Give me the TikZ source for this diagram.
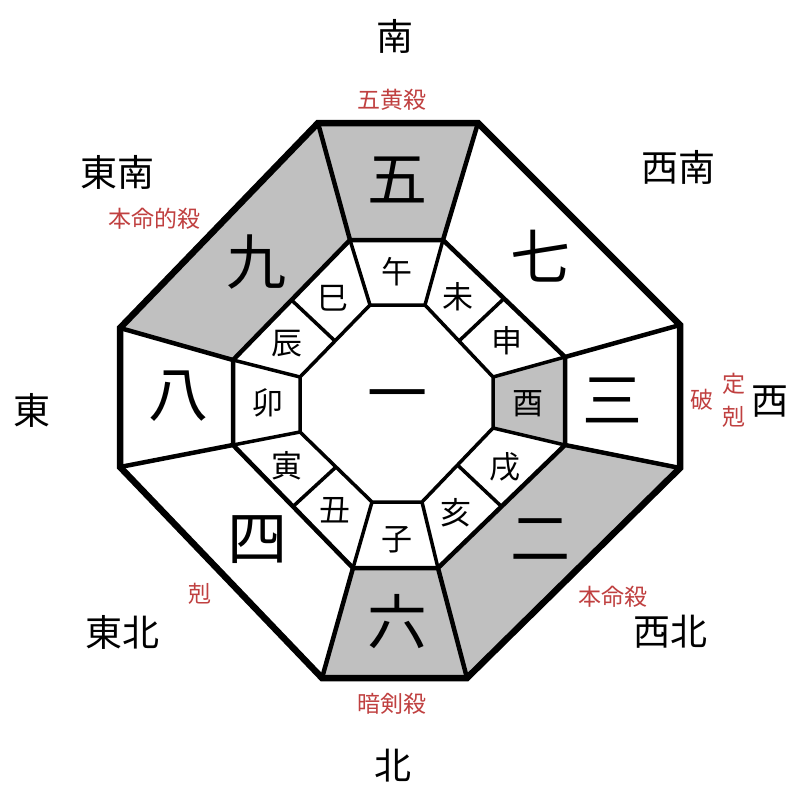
\documentclass[tikz,border=0pt]{standalone}
\usepackage{fontspec}
\usetikzlibrary{calc}
\newfontfamily\cjk{Noto Sans CJK JP}
\definecolor{cellgray}{RGB}{192,192,192}
\definecolor{redlab}{RGB}{192,64,64}
\begin{document}
\begin{tikzpicture}[x=1pt,y=-1pt,
  sector/.style={draw=black,line width=4.5pt,line join=miter},
  thin/.style={draw=black,line width=3.5pt},
  grayfill/.style={fill=cellgray},
  num/.style={inner sep=0pt,font=\cjk\fontsize{60}{60}\selectfont},
  branch/.style={inner sep=0pt,font=\cjk\fontsize{31}{31}\selectfont},
  dir/.style={inner sep=0pt,font=\cjk\fontsize{37}{37}\selectfont},
  redtxt/.style={inner sep=0pt,text=redlab,font=\cjk\fontsize{23}{23}\selectfont}]
\useasboundingbox (0,0) rectangle (800,800);
\fill[white] (0,0) rectangle (800,800);
% outer octagon
\coordinate (O1) at (318,123);
\coordinate (O2) at (478,123);
\coordinate (O3) at (680,325);
\coordinate (O4) at (680,468);
\coordinate (O5) at (467,678);
\coordinate (O6) at (322,678);
\coordinate (O7) at (120,467);
\coordinate (O8) at (120,328);
% middle octagon
\coordinate (M1) at (350,240);
\coordinate (M2) at (443,240);
\coordinate (M3) at (565,357);
\coordinate (M4) at (565,445);
\coordinate (M5) at (438,568);
\coordinate (M6) at (353,568);
\coordinate (M7) at (233,445);
\coordinate (M8) at (233,360);
% inner octagon
\coordinate (I1) at (370,305);
\coordinate (I2) at (425,305);
\coordinate (I3) at (493,377);
\coordinate (I4) at (493,428);
\coordinate (I5) at (422,502);
\coordinate (I6) at (372,502);
\coordinate (I7) at (300,432);
\coordinate (I8) at (300,377);
% gray fills
\path[grayfill] (O1) -- (O2) -- (M2) -- (M1) -- cycle;
\path[grayfill] (O4) -- (O5) -- (M5) -- (M4) -- cycle;
\path[grayfill] (O5) -- (O6) -- (M6) -- (M5) -- cycle;
\path[grayfill] (O8) -- (O1) -- (M1) -- (M8) -- cycle;
\path[grayfill] (M3) -- (M4) -- (I4) -- (I3) -- cycle;
% branch dividers
\draw[thin] ($(M2)!0.5!(M3)$) -- ($(I2)!0.5!(I3)$);
\draw[thin] ($(M4)!0.5!(M5)$) -- ($(I4)!0.5!(I5)$);
\draw[thin] ($(M6)!0.5!(M7)$) -- ($(I6)!0.5!(I7)$);
\draw[thin] ($(M8)!0.5!(M1)$) -- ($(I8)!0.5!(I1)$);
% inner radial lines
\foreach \i in {1,...,8} \draw[thin] (M\i) -- (I\i);
% inner octagon
\draw[thin,line join=miter] (I1) -- (I2) -- (I3) -- (I4) -- (I5) -- (I6) -- (I7) -- (I8) -- cycle;
% outer radial lines
\foreach \i in {1,...,8} \draw[sector] (M\i) -- (O\i);
% middle octagon
\draw[sector] (M1) -- (M2) -- (M3) -- (M4) -- (M5) -- (M6) -- (M7) -- (M8) -- cycle;
% outer octagon
\draw[draw=black,line width=6.5pt,line join=miter] (O1) -- (O2) -- (O3) -- (O4) -- (O5) -- (O6) -- (O7) -- (O8) -- cycle;
% numbers
\node[num] (n5) at (397,180) {五};
\node[num] (n7) at (540,256) {七};
\node[num] (n3) at (612,400) {三};
\node[num] (n2) at (540,540) {二};
\node[num] (n6) at (397,622) {六};
\node[num] (n4) at (257,540) {四};
\node[num] (n8) at (178,396) {八};
\node[num] (n9) at (256,262) {九};
\node[num] (n1) at (397,403) {一};
% branches
\node[branch] (bWu) at (397,272) {午};
\node[branch] (bWei) at (458,297) {未};
\node[branch] (bShen) at (507,341) {申};
\node[branch] (bYou) at (528,404) {酉};
\node[branch] (bXu) at (505,467) {戌};
\node[branch] (bHai) at (456,513) {亥};
\node[branch] (bZi) at (397,540) {子};
\node[branch] (bChou) at (335,510) {丑};
\node[branch] (bYin) at (287,466) {寅};
\node[branch] (bMao) at (268,403) {卯};
\node[branch] (bChen) at (287,344) {辰};
\node[branch] (bSi) at (333,298) {巳};
% directions
\node[dir] (dS) at (395,36) {南};
\node[dir] (dSE) at (117,172) {東南};
\node[dir] (dSW) at (678,167) {西南};
\node[dir] (dE) at (32,410) {東};
\node[dir] (dW) at (770,402) {西};
\node[dir] (dNE) at (122,632) {東北};
\node[dir] (dNW) at (670,632) {西北};
\node[dir] (dN) at (393,766) {北};
% red labels
\node[redtxt] (r1) at (392,100) {五黄殺};
\node[redtxt] (r2) at (154,219) {本命的殺};
\node[redtxt] (r3) at (702,400) {破};
\node[redtxt] (r4) at (734,384) {定};
\node[redtxt] (r5) at (734,417) {剋};
\node[redtxt] (r6) at (200,594) {剋};
\node[redtxt] (r7) at (613,597) {本命殺};
\node[redtxt] (r8) at (392,704) {暗剣殺};
\end{tikzpicture}
\end{document}
